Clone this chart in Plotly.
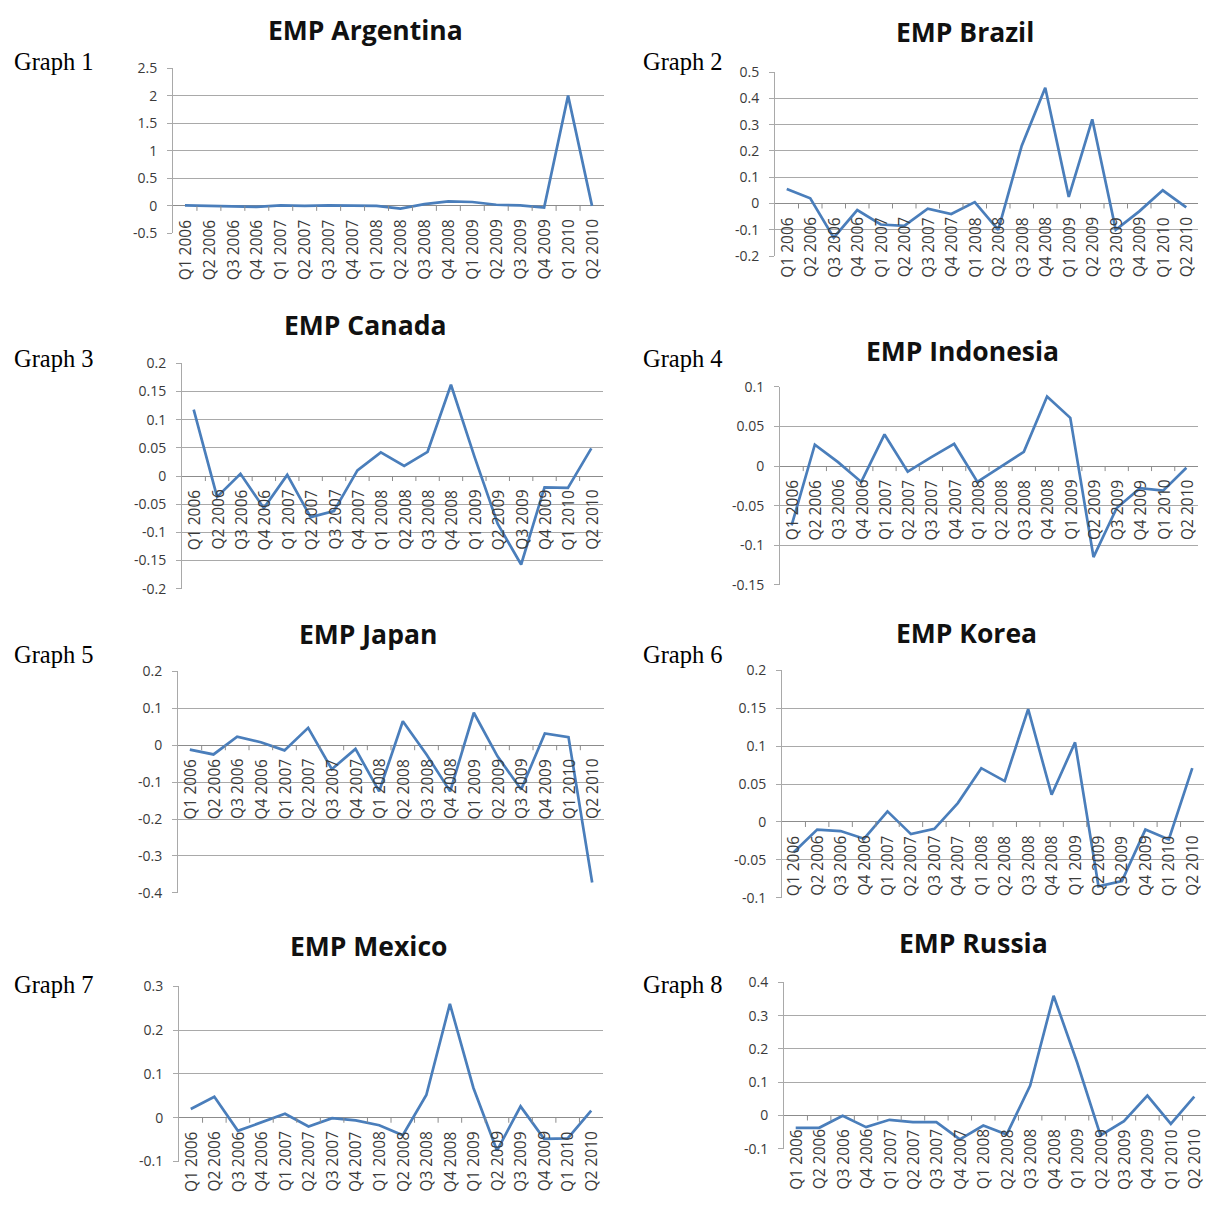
import plotly.graph_objects as go

W, H = 1206, 1205

quarters = ["Q1 2006", "Q2 2006", "Q3 2006", "Q4 2006", "Q1 2007", "Q2 2007",
            "Q3 2007", "Q4 2007", "Q1 2008", "Q2 2008", "Q3 2008", "Q4 2008",
            "Q1 2009", "Q2 2009", "Q3 2009", "Q4 2009", "Q1 2010", "Q2 2010"]

argentina = [0.01, 0.0, 0.0, -0.02, 0.01, 0.0, 0.01, 0.0, 0.0, -0.05, 0.03, 0.08,
             0.07, 0.02, 0.01, -0.03, 2.0, 0.0]
brazil = [0.055, 0.02, -0.13, -0.025, -0.08, -0.085, -0.02, -0.04, 0.005, -0.1, 0.22, 0.44,
          0.025, 0.32, -0.1, -0.03, 0.05, -0.015]
canada = [0.118, -0.037, 0.004, -0.057, 0.002, -0.073, -0.062, 0.01, 0.042, 0.018, 0.043, 0.162,
          0.035, -0.085, -0.157, -0.02, -0.021, 0.049]
indonesia = [-0.075, 0.027, 0.005, -0.02, 0.04, -0.007, 0.011, 0.028, -0.02, -0.001, 0.018, 0.088,
             0.061, -0.115, -0.053, -0.028, -0.031, -0.002]
japan = [-0.012, -0.025, 0.023, 0.008, -0.014, 0.047, -0.065, -0.01, -0.125, 0.065, -0.025, -0.125,
         0.088, -0.03, -0.12, 0.032, 0.022, -0.372]
korea = [-0.04, -0.01, -0.012, -0.022, 0.014, -0.016, -0.009, 0.025, 0.071, 0.054, 0.149, 0.036,
         0.105, -0.085, -0.078, -0.01, -0.023, 0.071]
mexico = [0.02, 0.048, -0.03, -0.01, 0.009, -0.02, -0.001, -0.006, -0.017, -0.04, 0.052, 0.26,
          0.068, -0.075, 0.026, -0.048, -0.047, 0.016]
russia = [-0.037, -0.037, -0.001, -0.035, -0.013, -0.02, -0.02, -0.072, -0.03, -0.057, 0.09, 0.36,
          0.16, -0.06, -0.017, 0.06, -0.025, 0.057]

argentina_ticks = [-0.5, 0, 0.5, 1, 1.5, 2, 2.5]
argentina_labels = ["-0.5", "0", "0.5", "1", "1.5", "2", "2.5"]
brazil_ticks = [-0.2, -0.1, 0, 0.1, 0.2, 0.3, 0.4, 0.5]
brazil_labels = ["-0.2", "-0.1", "0", "0.1", "0.2", "0.3", "0.4", "0.5"]
canada_ticks = [-0.2, -0.15, -0.1, -0.05, 0, 0.05, 0.1, 0.15, 0.2]
canada_labels = ["-0.2", "-0.15", "-0.1", "-0.05", "0", "0.05", "0.1", "0.15", "0.2"]
indonesia_ticks = [-0.15, -0.1, -0.05, 0, 0.05, 0.1]
indonesia_labels = ["-0.15", "-0.1", "-0.05", "0", "0.05", "0.1"]
japan_ticks = [-0.4, -0.3, -0.2, -0.1, 0, 0.1, 0.2]
japan_labels = ["-0.4", "-0.3", "-0.2", "-0.1", "0", "0.1", "0.2"]
korea_ticks = [-0.1, -0.05, 0, 0.05, 0.1, 0.15, 0.2]
korea_labels = ["-0.1", "-0.05", "0", "0.05", "0.1", "0.15", "0.2"]
mexico_ticks = [-0.1, 0, 0.1, 0.2, 0.3]
mexico_labels = ["-0.1", "0", "0.1", "0.2", "0.3"]
russia_ticks = [-0.1, 0, 0.1, 0.2, 0.3, 0.4]
russia_labels = ["-0.1", "0", "0.1", "0.2", "0.3", "0.4"]

titles = ["EMP Argentina", "EMP Brazil", "EMP Canada", "EMP Indonesia",
          "EMP Japan", "EMP Korea", "EMP Mexico", "EMP Russia"]
graph_labels = ["Graph 1", "Graph 2", "Graph 3", "Graph 4",
                "Graph 5", "Graph 6", "Graph 7", "Graph 8"]

series = [argentina, brazil, canada, indonesia, japan, korea, mexico, russia]
ticks = [argentina_ticks, brazil_ticks, canada_ticks, indonesia_ticks,
         japan_ticks, korea_ticks, mexico_ticks, russia_ticks]
tick_labels = [argentina_labels, brazil_labels, canada_labels, indonesia_labels,
               japan_labels, korea_labels, mexico_labels, russia_labels]

# layout (pixels): plot boxes (x0, x1, ytop, ybottom)
boxes = [(173, 604, 59, 227), (775, 1198, 63, 250),
         (182, 603, 359, 588), (780, 1198, 383, 584),
         (178, 604, 672, 897), (782, 1204, 671, 902),
         (179, 603, 992, 1170), (784, 1206, 988, 1157)]
title_pos = [(365, 20), (965, 22), (365, 320), (962, 346),
             (368, 634), (966, 633), (368, 951), (973, 948)]
graph_pos = [(12, 52), (641, 52), (12, 354), (641, 354),
             (12, 655), (641, 655), (12, 990), (641, 990)]

GRID = "#a9a9a9"
LINE = "#4a7ebb"
TXT = "#3a3a3a"

fig = go.Figure()
annotations = []
shapes = []

for i in range(8):
    ax = "" if i == 0 else str(i + 1)
    xname, yname = "x" + ax, "y" + ax
    x0, x1, yt, yb = boxes[i]
    tv = ticks[i]
    fig.add_trace(go.Scatter(x=quarters, y=series[i], mode="lines",
                             line=dict(color=LINE, width=2.7),
                             xaxis=xname, yaxis=yname, showlegend=False,
                             hoverinfo="x+y"))
    fig.layout["xaxis" + ax] = dict(
        domain=[x0 / W, x1 / W], anchor=yname, type="category",
        range=[-0.5, 17.5], showgrid=False, showticklabels=False,
        zeroline=False, showline=False, ticks="", fixedrange=True)
    pad = (tv[-1] - tv[0]) * 1e-6
    fig.layout["yaxis" + ax] = dict(
        domain=[1 - yb / H, 1 - yt / H], anchor=xname,
        range=[tv[0] - pad, tv[-1] + pad],
        tickvals=tv, ticktext=tick_labels[i],
        showgrid=True, gridcolor=GRID, gridwidth=1,
        zeroline=True, zerolinecolor="#8c8c8c", zerolinewidth=1,
        showline=True, linecolor=GRID, linewidth=1,
        ticks="outside", ticklen=5, tickcolor=GRID, tickwidth=1,
        ticklabelstandoff=7,
        tickfont=dict(family="Open Sans", size=14, color=TXT), fixedrange=True)
    # category labels at the zero line (Excel-style axis crossing at 0)
    for q in quarters:
        annotations.append(dict(
            x=q, y=0, xref=xname, yref=yname, text=q, showarrow=False,
            textangle=-90, xanchor="center", yanchor="top", yshift=-11,
            font=dict(family="Open Sans", size=15.5, color=TXT)))
    # tick marks on the horizontal axis at category boundaries
    for k in range(1, 18):
        shapes.append(dict(type="line", xref=xname, yref=yname,
                           x0=k - 0.5, x1=k - 0.5, ysizemode="pixel", yanchor=0,
                           y0=0, y1=-5, line=dict(color="#8c8c8c", width=1)))
    tx, ty = title_pos[i]
    annotations.append(dict(x=tx / W, y=1 - ty / H, xref="paper", yref="paper",
                            text="<b>" + titles[i] + "</b>", showarrow=False,
                            xanchor="center", yanchor="middle",
                            font=dict(family="Open Sans", size=26.5, color="#111111")))
    gx, gy = graph_pos[i]
    annotations.append(dict(x=gx / W, y=1 - gy / H, xref="paper", yref="paper",
                            text=graph_labels[i], showarrow=False,
                            xanchor="left", yanchor="middle",
                            font=dict(family="Liberation Serif", size=24.5, color="#000000")))

fig.update_layout(width=W, height=H, margin=dict(l=0, r=0, t=0, b=0),
                  paper_bgcolor="white", plot_bgcolor="white",
                  annotations=annotations, shapes=shapes, showlegend=False)

fig.write_html("out.html", config={"displayModeBar": False},
               post_script="document.body.style.margin='0';document.body.style.overflow='hidden';")
